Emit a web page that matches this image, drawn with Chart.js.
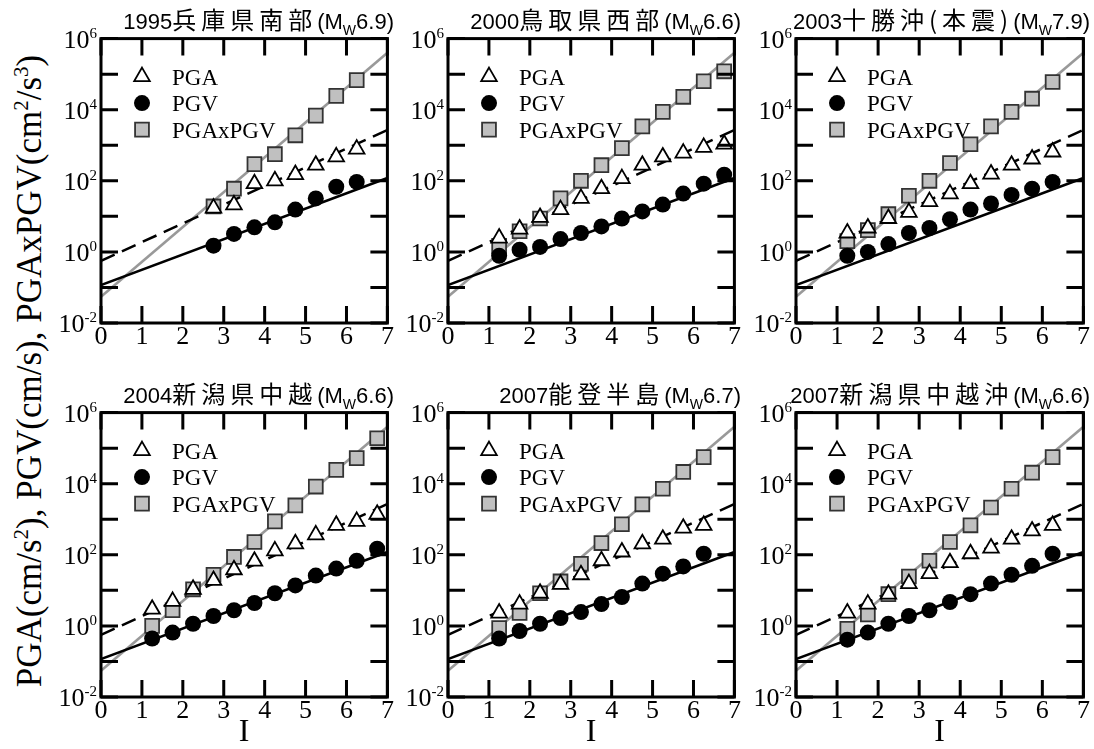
<!DOCTYPE html>
<html>
<head>
<meta charset="utf-8">
<script src="https://cdn.jsdelivr.net/npm/chart.js@4.4.0/dist/chart.umd.min.js"></script>
<style>
  body { margin: 0; background: #fff; width: 1094px; height: 749px; position: relative; overflow: hidden; }
  canvas { position: absolute; }
  .ttl { position: absolute; font-family: "Liberation Sans", "Noto Sans CJK JP", sans-serif; font-size: 22px; line-height: 22px; white-space: nowrap; text-align: right; color: #000; }
  .ttl .jp { font-family: "Noto Sans CJK JP", sans-serif; font-size: 24px; letter-spacing: 5px; }
  .ttl sub { font-size: 14px; vertical-align: -6px; line-height: 0; }
  #ytitle { position: absolute; left: 30px; top: 371px; transform: translate(-50%, -50%) rotate(-90deg);
            font-family: "Liberation Serif", serif; font-size: 35px; white-space: nowrap; color: #000; }
  #ytitle sup { font-size: 21px; line-height: 0; }
</style>
</head>
<body>
<div id="ytitle">PGA(cm/s<sup>2</sup>), PGV(cm/s), PGAxPGV(cm<sup>2</sup>/s<sup>3</sup>)</div>
<script>
// Axis ticks
const xTicks = [0, 1, 2, 3, 4, 5, 6, 7];
const yDecades = [-2, -1, 0, 1, 2, 3, 4, 5, 6];
const yLabelExps = [-2, 0, 2, 4, 6];

// Panel titles
const years = ['1995', '2000', '2003', '2004', '2007', '2007'];
const places = ['兵庫県南部', '鳥取県西部', '十勝沖(本震)', '新潟県中越', '能登半島', '新潟県中越沖'];
const mags = ['6.9', '6.6', '7.9', '6.6', '6.7', '6.6'];
const seriesNames = ['PGA', 'PGV', 'PGAxPGV'];

// Regression lines (same in all panels)
const fitI = [0, 7];
const fitPGA = [0.56, 2700];
const fitPGV = [0.117, 120];
const fitPGAxPGV = [0.055, 400000];

// 1995 兵庫県南部
const I1995 = [2.75, 3.25, 3.75, 4.25, 4.75, 5.25, 5.75, 6.25];
const pga1995 = [17, 21, 83, 100, 150, 275, 470, 780];
const pgv1995 = [1.5, 3.2, 4.9, 6.8, 15.5, 32, 68, 93];
const pap1995 = [19, 60, 295, 560, 1900, 6800, 24500, 68000];

// 2000 鳥取県西部
const I2000 = [1.25, 1.75, 2.25, 2.75, 3.25, 3.75, 4.25, 4.75, 5.25, 5.75, 6.25, 6.75];
const pga2000 = [2.45, 4.4, 9.3, 15.5, 32, 60, 115, 275, 468, 600, 870, 1070];
const pgv2000 = [0.78, 1.15, 1.38, 2.3, 3.4, 5.2, 8.7, 13.8, 21.4, 43.7, 83, 148];
const pap2000 = [1.48, 3.8, 8.7, 32, 100, 275, 830, 3400, 8700, 23000, 63000, 120000];

// 2003 十勝沖
const I2003 = [1.25, 1.75, 2.25, 2.75, 3.25, 3.75, 4.25, 4.75, 5.25, 5.75, 6.25];
const pga2003 = [3.4, 4.7, 8.7, 12.9, 26, 43, 83, 155, 275, 410, 645];
const pgv2003 = [0.78, 1.0, 1.66, 3.4, 4.7, 8.3, 15.5, 23, 40, 60, 93];
const pap2003 = [2.0, 4.1, 11.5, 38, 100, 316, 1070, 3400, 8700, 20400, 60000];

// 2004 新潟県中越
const I2004 = [1.25, 1.75, 2.25, 2.75, 3.25, 3.75, 4.25, 4.75, 5.25, 5.75, 6.25, 6.75];
const pga2004 = [2.95, 4.9, 10.7, 19, 38, 66, 129, 204, 363, 676, 870, 1380];
const pgv2004 = [0.44, 0.65, 1.15, 1.9, 2.75, 4.4, 8.3, 13.8, 26, 41, 68, 148];
const pap2004 = [1.0, 2.75, 10.7, 27.5, 87, 229, 870, 2450, 8300, 24500, 52500, 190000];

// 2007 能登半島
const I2007a = [1.25, 1.75, 2.25, 2.75, 3.25, 3.75, 4.25, 4.75, 5.25, 5.75, 6.25];
const pga2007a = [2.3, 4.1, 8.3, 14.8, 27.5, 68, 120, 204, 275, 560, 676];
const pgv2007a = [0.44, 0.72, 1.15, 1.66, 2.45, 4.1, 6.5, 15.5, 29.5, 47, 107];
const pap2007a = [0.87, 2.3, 8.3, 17.8, 56, 214, 725, 2630, 7200, 21400, 56000];

// 2007 新潟県中越沖
const I2007b = [1.25, 1.75, 2.25, 2.75, 3.25, 3.75, 4.25, 4.75, 5.25, 5.75, 6.25];
const pga2007b = [2.3, 4.1, 7.8, 15.5, 29.5, 60, 107, 155, 275, 468, 676];
const pgv2007b = [0.41, 0.65, 1.15, 1.9, 2.75, 4.7, 7.8, 15.5, 27.5, 49, 107];
const pap2007b = [0.83, 2.1, 7.8, 24.5, 68, 229, 676, 2140, 7200, 20400, 56000];

const panelI = [I1995, I2000, I2003, I2004, I2007a, I2007b];
const panelPGA = [pga1995, pga2000, pga2003, pga2004, pga2007a, pga2007b];
const panelPGV = [pgv1995, pgv2000, pgv2003, pgv2004, pgv2007a, pgv2007b];
const panelPAP = [pap1995, pap2000, pap2003, pap2004, pap2007a, pap2007b];

// Layout
const plotLeft = [101, 448, 796];
const plotWidth = [290, 290, 291];
const plotTop = [35, 409];
const PLOT_H = 288;
const PAD_L = 60, PAD_R = 8, PAD_T = 8;
const TICK = 17;

function pts(xs, ys) {
  return xs.map((x, i) => ({x: x, y: ys[i]}));
}

var framePlugin = {
  id: 'frame',
  afterDraw(chart) {
    const ctx = chart.ctx;
    const a = chart.chartArea;
    const xs = chart.scales.x, ys = chart.scales.y;
    ctx.save();
    ctx.strokeStyle = '#000';
    ctx.lineWidth = 3;
    ctx.beginPath();
    xTicks.forEach(v => {
      const px = xs.getPixelForValue(v);
      ctx.moveTo(px, a.bottom); ctx.lineTo(px, a.bottom - TICK);
      ctx.moveTo(px, a.top); ctx.lineTo(px, a.top + TICK);
    });
    yDecades.forEach(e => {
      const py = ys.getPixelForValue(Math.pow(10, e));
      ctx.moveTo(a.left, py); ctx.lineTo(a.left + TICK, py);
      ctx.moveTo(a.right, py); ctx.lineTo(a.right - TICK, py);
    });
    ctx.stroke();
    ctx.strokeRect(a.left, a.top, a.right - a.left, a.bottom - a.top);

    // y tick labels 10^n
    ctx.fillStyle = '#000';
    ctx.textBaseline = 'alphabetic';
    ctx.textAlign = 'left';
    yLabelExps.forEach(e => {
      const py = ys.getPixelForValue(Math.pow(10, e));
      const sup = String(e);
      ctx.font = '15px "Liberation Serif"';
      const sw = ctx.measureText(sup).width;
      ctx.font = '26px "Liberation Serif"';
      const bw = ctx.measureText('10').width;
      const right = a.left - 4;
      ctx.fillText('10', right - sw - bw, py + 9);
      ctx.font = '15px "Liberation Serif"';
      ctx.fillText(sup, right - sw, py - 1);
    });

    // legend
    const drawPoint = Chart.helpers.drawPoint;
    ctx.font = '23px "Liberation Serif"';
    for (let i = 0; i < 3; i++) {
      const ds = chart.data.datasets[i];
      const cy = a.top + 38 + i * 26.5;
      ctx.fillStyle = ds.pointBackgroundColor;
      ctx.strokeStyle = ds.pointBorderColor;
      ctx.lineWidth = ds.pointBorderWidth;
      drawPoint(ctx, {pointStyle: ds.pointStyle, rotation: 0, radius: ds.pointRadius, borderWidth: ds.pointBorderWidth}, a.left + 41, cy);
      ctx.fillStyle = '#000';
      ctx.fillText(ds.label, a.left + 71, cy + 8);
    }
    ctx.restore();
  }
};

function makePanel(p) {
  const col = p % 3, row = Math.floor(p / 3);
  const xH = row === 0 ? 40 : 52;
  const cv = document.createElement('canvas');
  cv.width = PAD_L + plotWidth[col] + PAD_R;
  cv.height = PAD_T + PLOT_H + xH;
  cv.style.left = (plotLeft[col] - PAD_L) + 'px';
  cv.style.top = (plotTop[row] - PAD_T) + 'px';
  document.body.appendChild(cv);

  const t = document.createElement('div');
  t.className = 'ttl';
  t.innerHTML = years[p] + '<span class="jp">' + places[p] + '</span>(M<sub>W</sub>' + mags[p] + ')';
  t.style.right = (1094 - (plotLeft[col] + plotWidth[col] + 3)) + 'px';
  t.style.top = (plotTop[row] - 27) + 'px';
  document.body.appendChild(t);

  new Chart(cv.getContext('2d'), {
    type: 'scatter',
    data: {
      datasets: [{
        label: seriesNames[0],
        data: pts(panelI[p], panelPGA[p]),
        pointStyle: 'triangle',
        pointRadius: 9,
        pointBackgroundColor: '#ffffff',
        pointBorderColor: '#000000',
        pointBorderWidth: 1.8,
        order: 0
      }, {
        label: seriesNames[1],
        data: pts(panelI[p], panelPGV[p]),
        pointStyle: 'circle',
        pointRadius: 8,
        pointBackgroundColor: '#000000',
        pointBorderColor: '#000000',
        pointBorderWidth: 0,
        order: 1
      }, {
        label: seriesNames[2],
        data: pts(panelI[p], panelPAP[p]),
        pointStyle: 'rect',
        pointRadius: 9.8,
        pointBackgroundColor: '#c0c0c0',
        pointBorderColor: '#333333',
        pointBorderWidth: 1.8,
        order: 2
      }, {
        label: 'PGA fit',
        data: pts(fitI, fitPGA),
        showLine: true,
        pointRadius: 0,
        borderColor: '#000000',
        borderWidth: 2.5,
        borderDash: [15, 8],
        order: 3
      }, {
        label: 'PGV fit',
        data: pts(fitI, fitPGV),
        showLine: true,
        pointRadius: 0,
        borderColor: '#000000',
        borderWidth: 2.5,
        order: 4
      }, {
        label: 'PGAxPGV fit',
        data: pts(fitI, fitPGAxPGV),
        showLine: true,
        pointRadius: 0,
        borderColor: '#999999',
        borderWidth: 2.5,
        order: 5
      }]
    },
    options: {
      responsive: false,
      animation: false,
      events: [],
      layout: { padding: { left: PAD_L, right: PAD_R, top: PAD_T, bottom: 0 } },
      scales: {
        x: {
          type: 'linear',
          min: 0,
          max: 7,
          grid: { display: false, drawTicks: false },
          border: { display: false },
          ticks: {
            stepSize: 1,
            padding: 1,
            color: '#000',
            font: { family: 'Liberation Serif', size: 26, lineHeight: 1 }
          },
          title: {
            display: row === 1,
            text: 'I',
            color: '#000',
            padding: 0,
            font: { family: 'Liberation Serif', size: 32, lineHeight: 1 }
          },
          afterFit: function (s) { s.height = xH; }
        },
        y: {
          type: 'logarithmic',
          min: 0.01,
          max: 1000000,
          display: false
        }
      },
      plugins: {
        legend: { display: false },
        tooltip: { enabled: false }
      }
    },
    plugins: [framePlugin]
  });
}

for (let p = 0; p < 6; p++) makePanel(p);
</script>
</body>
</html>
